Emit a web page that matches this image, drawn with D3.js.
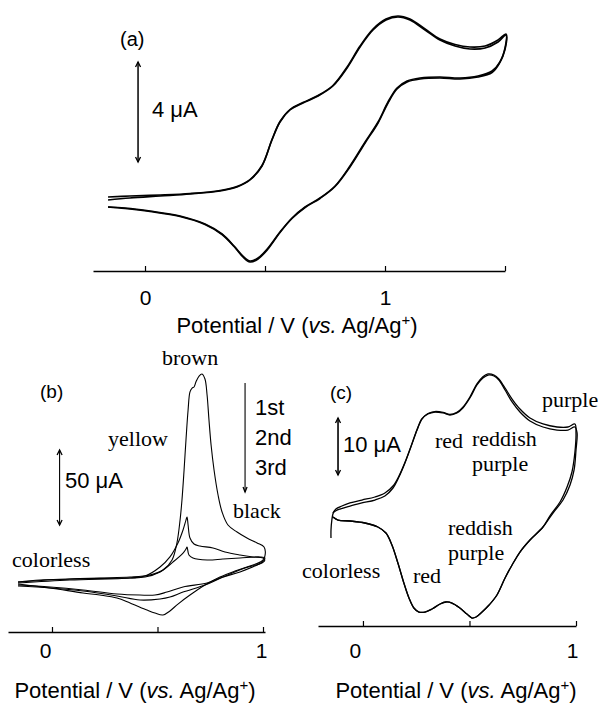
<!DOCTYPE html>
<html>
<head>
<meta charset="utf-8">
<script src="https://d3js.org/d3.v7.min.js"></script>
<style>
  body { margin: 0; background: #fff; }
  svg { display: block; }
  .sans { font-family: "Liberation Sans", Arial, sans-serif; }
  .serif { font-family: "Liberation Serif", "Times New Roman", serif; }
</style>
</head>
<body>
<svg id="chart" width="598" height="704"></svg>
<script>
// ---- data: [potential V, current uA] ----
// (a) two overlapping cycles
var aScan1 = [[-0.154,0.28],[-0.063,0.36],[0.063,0.44],[0.188,0.52],[0.313,0.64],[0.383,0.80],[0.4375,1.08],[0.4875,1.64],[0.529,2.68],[0.5625,3.4],[0.604,3.88],[0.658,4.16],[0.721,4.44],[0.783,4.84],[0.842,5.56],[0.896,6.4],[0.95,7.08],[1.004,7.48],[1.054,7.6],[1.104,7.48],[1.167,7.08],[1.229,6.68],[1.292,6.44],[1.354,6.32],[1.417,6.36],[1.471,6.6],[1.504,6.88],
  [1.5,6.36],[1.479,5.8],[1.446,5.44],[1.3875,5.24],[1.3125,5.16],[1.229,5.2],[1.146,5.16],[1.092,5.04],[1.05,4.76],[1.0125,4.2],[0.971,3.4],[0.917,2.6],[0.854,1.64],[0.792,0.84],[0.729,0.36],[0.667,0.0],[0.6125,-0.44],[0.5625,-1.0],[0.5125,-1.64],[0.471,-2.04],[0.4375,-2.16],[0.408,-1.96],[0.371,-1.56],[0.321,-1.08],[0.25,-0.68],[0.146,-0.36],[0.021,-0.16],[-0.083,-0.04],[-0.154,0.0]];
var aScan2 = [[-0.154,0.40],[-0.063,0.44],[0.063,0.48],[0.188,0.54],[0.313,0.66],[0.383,0.82],[0.4375,1.1],[0.4875,1.66],[0.529,2.7],[0.5625,3.42],[0.604,3.9],[0.658,4.18],[0.721,4.46],[0.783,4.86],[0.842,5.6],[0.896,6.44],[0.95,7.12],[1.004,7.52],[1.054,7.64],[1.104,7.52],[1.167,7.12],[1.229,6.72],[1.292,6.5],[1.354,6.4],[1.417,6.44],[1.471,6.68],[1.504,6.92],
  [1.5,6.3],[1.475,5.72],[1.446,5.38],[1.3875,5.2],[1.3125,5.12],[1.229,5.16],[1.146,5.12],[1.092,5.0],[1.05,4.72],[1.0125,4.16],[0.971,3.36],[0.917,2.56],[0.854,1.6],[0.792,0.82],[0.729,0.34],[0.667,-0.02],[0.6125,-0.46],[0.5625,-1.02],[0.5125,-1.68],[0.471,-2.08],[0.4375,-2.2],[0.408,-2.0],[0.371,-1.58],[0.321,-1.1],[0.25,-0.7],[0.146,-0.38],[0.021,-0.18],[-0.083,-0.06],[-0.154,0.0]];

// (b) 1st, 2nd, 3rd cycles
var bScan1 = [[-0.161,2],[-0.057,3.3],[0.085,4],[0.227,4.7],[0.37,5.3],[0.464,6.7],[0.526,10],[0.569,16.7],[0.592,28],[0.607,43.3],[0.616,56.7],[0.626,76.7],[0.635,96.7],[0.645,116.7],[0.654,128.7],[0.664,131.3],[0.673,132],[0.682,135.3],[0.697,139.3],[0.711,140.7],[0.725,137.3],[0.735,126.7],[0.744,110],[0.754,93.3],[0.768,76.7],[0.787,60],[0.806,48.7],[0.834,40],[0.877,35.3],[0.924,31.3],[0.972,28],[1.005,25.3],[1.009,19.3],
  [0.995,16],[0.938,12.7],[0.867,9.3],[0.796,5.3],[0.725,0],[0.654,-6.7],[0.597,-12.7],[0.559,-17.3],[0.526,-20],[0.488,-18.7],[0.45,-16.7],[0.37,-12],[0.308,-8.7],[0.227,-6.7],[0.147,-5.3],[-0.009,-2],[-0.161,0.7]];
var bScan2 = [[-0.161,1.3],[0.085,3.3],[0.37,4.7],[0.441,6],[0.512,12],[0.559,18.7],[0.597,28],[0.621,36.7],[0.635,43.3],[0.64,45.3],[0.645,40],[0.654,31.3],[0.673,27.3],[0.701,26],[0.763,24.7],[0.82,22],[0.891,20],[0.953,18.7],[1.0,18],[1.009,16.7],
  [0.995,14.7],[0.915,11.3],[0.81,5.3],[0.725,0],[0.621,-4.7],[0.559,-8],[0.512,-9.3],[0.417,-10],[0.308,-7.3],[0.147,-4],[-0.009,-2],[-0.161,-0.7]];
var bScan3 = [[-0.161,2],[0.085,4],[0.37,4.7],[0.441,5.3],[0.512,8.7],[0.573,15.3],[0.621,21.3],[0.635,24],[0.64,25.3],[0.649,20],[0.668,18],[0.735,16.7],[0.81,17.3],[0.891,18],[0.986,18.7],[1.009,18],
  [0.995,15.3],[0.891,8.7],[0.81,5.3],[0.735,1.3],[0.621,-1.3],[0.545,-4.7],[0.488,-6.7],[0.417,-6.7],[0.308,-6],[0.147,-3.3],[-0.009,-1.3],[-0.161,0]];

// (c) two overlapping cycles
var cScan1 = [[-0.150,-3.33],[-0.150,-1.93],[-0.146,-0.18],[-0.141,0.88],[-0.136,1.23],[-0.108,1.75],[-0.061,2.28],[-0.005,2.81],[0.056,3.33],[0.103,4.04],[0.141,5.44],[0.169,7.37],[0.197,9.82],[0.225,12.63],[0.254,15.61],[0.277,17.54],[0.305,18.42],[0.338,18.77],[0.376,18.6],[0.408,18.25],[0.441,18.6],[0.469,19.47],[0.502,21.23],[0.535,23.51],[0.563,24.74],[0.587,25.26],[0.615,25.09],[0.638,24.39],[0.667,22.63],[0.7,20.53],[0.737,18.77],[0.784,17.19],[0.845,16.14],[0.911,15.61],[0.962,15.61],[0.995,16.14],
  [1.005,15.09],[1.0,12.1],[0.991,8.6],[0.972,5.96],[0.939,3.33],[0.892,1.05],[0.845,-1.4],[0.784,-3.68],[0.737,-5.79],[0.7,-8.07],[0.667,-10.35],[0.629,-13.33],[0.592,-15.09],[0.559,-16.32],[0.531,-17.19],[0.512,-17.37],[0.488,-16.67],[0.455,-15.61],[0.418,-14.74],[0.39,-14.56],[0.362,-14.91],[0.324,-15.79],[0.291,-16.32],[0.263,-16.32],[0.239,-15.61],[0.216,-13.86],[0.192,-11.23],[0.164,-7.72],[0.136,-4.56],[0.108,-2.46],[0.07,-1.4],[0.009,-0.7],[-0.061,-0.35],[-0.117,-0.18],[-0.141,0.35]];
var cScan2 = [[-0.141,1.05],[-0.127,1.75],[-0.099,2.28],[-0.061,2.81],[-0.005,3.33],[0.056,3.86],[0.103,4.56],[0.141,5.79],[0.169,7.54],[0.197,9.9],[0.225,12.7],[0.254,15.7],[0.277,17.6],[0.305,18.5],[0.338,18.85],[0.376,18.7],[0.408,18.35],[0.441,18.7],[0.469,19.6],[0.502,21.4],[0.535,23.7],[0.563,24.95],[0.587,25.45],[0.615,25.26],[0.638,24.56],[0.667,22.98],[0.7,21.05],[0.737,19.3],[0.784,17.72],[0.845,16.67],[0.911,16.14],[0.962,16.14],[0.995,16.67],
  [1.0,15.09],[0.995,11.75],[0.981,8.25],[0.958,5.61],[0.925,2.98],[0.88,0.7],[0.845,-1.4],[0.784,-3.68],[0.737,-5.79],[0.7,-8.07],[0.667,-10.35],[0.629,-13.33],[0.592,-15.09],[0.559,-16.32],[0.531,-17.19],[0.512,-17.37],[0.488,-16.67],[0.455,-15.61],[0.418,-14.74],[0.39,-14.56],[0.362,-14.91],[0.324,-15.79],[0.291,-16.32],[0.263,-16.32],[0.239,-15.61],[0.216,-13.86],[0.192,-11.23],[0.164,-7.72],[0.136,-4.56],[0.108,-2.46],[0.07,-1.4],[0.009,-0.7],[-0.061,-0.35],[-0.117,-0.18],[-0.141,0.35]];

var aTicks = [0, 0.5, 1, 1.5];
var bTicks = [0, 0.5, 1];
var cTicks = [0, 0.5, 1];
var labeledTicks = [0, 1];
var aBarSpan = 4, bBarSpan = 50, cBarSpan = 10;   // uA
var barLabels = ["4 μA", "50 μA", "10 μA"];
var cycleNames = ["1st", "2nd", "3rd"];

var svg = d3.select("#chart");

function arrowHead(g, x, y, dir, w, h) {
    // open chevron, dir = -1 points up, +1 points down
    g.append("path")
        .attr("d", "M" + (x - w) + "," + (y - dir * h) + "L" + x + "," + y + "L" + (x + w) + "," + (y - dir * h))
        .attr("fill", "none").attr("stroke", "#000").attr("stroke-width", 1.3);
}

function panel(cfg) {
    var x = d3.scaleLinear().domain(cfg.xDomain).range(cfg.xRange);
    var y = d3.scaleLinear().domain(cfg.yDomain).range(cfg.yRange);
    var g = svg.append("g");

    var line = d3.line()
        .x(function(d) { return x(d[0]); })
        .y(function(d) { return y(d[1]); })
        .curve(d3.curveCatmullRom.alpha(0.5));

    cfg.scans.forEach(function(s) {
        g.append("path").attr("d", line(s))
            .attr("fill", "none").attr("stroke", "#000")
            .attr("stroke-width", cfg.lw).attr("stroke-linejoin", "round");
    });

    var axis = d3.axisBottom(x).tickValues(cfg.ticks)
        .tickSizeInner(-5).tickSizeOuter(0).tickPadding(cfg.pad)
        .tickFormat(function(d) { return labeledTicks.indexOf(d) >= 0 ? d3.format("d")(d) : ""; });
    var ax = g.append("g").attr("transform", "translate(0," + y(cfg.yDomain[0]) + ")").call(axis);
    ax.select(".domain").attr("stroke-width", 1.4);
    ax.selectAll(".tick line").attr("stroke-width", 1.2);
    ax.selectAll(".tick text").attr("class", "sans").attr("font-size", 21)
        .attr("fill", "#000").attr("font-family", null)
        .attr("dx", function(d) { return d === 0 ? cfg.dx0 : cfg.dx1; });

    // current scale bar
    var bx = x(cfg.bar.E), by0 = y(cfg.bar.top), by1 = y(cfg.bar.top - cfg.bar.span);
    g.append("line").attr("x1", bx).attr("x2", bx).attr("y1", by0).attr("y2", by1)
        .attr("stroke", "#000").attr("stroke-width", cfg.barW);
    arrowHead(g, bx, by0, -1, 2.5, 5);
    arrowHead(g, bx, by1, 1, 2.5, 5);
    return { x: x, y: y, g: g };
}

function axisTitle(cx, cy) {
    var t = svg.append("text").attr("class", "sans").attr("font-size", 22)
        .attr("x", cx).attr("y", cy).attr("text-anchor", "middle");
    t.append("tspan").text("Potential / V (");
    t.append("tspan").attr("font-style", "italic").text("vs.");
    t.append("tspan").text(" Ag/Ag");
    t.append("tspan").attr("font-size", 15).attr("dy", -8).text("+");
    t.append("tspan").attr("dy", 8).text(")");
}

function label(text, x, y, cls, size) {
    svg.append("text").attr("class", cls).attr("font-size", size)
        .attr("x", x).attr("y", y).text(text);
}

// ---- panel (a) ----
panel({
    xDomain: [-0.2167, 1.5], xRange: [93, 505],
    yDomain: [-2.56, 7.64], yRange: [271, 16],
    scans: [aScan1, aScan2], lw: 1.6, ticks: aTicks, pad: 19, dx0: 0, dx1: 0,
    bar: { E: -0.029, top: 5.8, span: aBarSpan }, barW: 1.5
});
axisTitle(297, 333);
label("(a)", 120, 46, "sans", 20);
label(barLabels[0], 152, 117, "sans", 22);

// ---- panel (b) ----
var pb = panel({
    xDomain: [-0.2085, 1.0095], xRange: [8, 265],
    yDomain: [-31.33, 150], yRange: [632, 360],
    scans: [bScan1, bScan2, bScan3], lw: 1.1, ticks: bTicks, pad: 11, dx0: -7, dx1: -2,
    bar: { E: 0.036, top: 90, span: bBarSpan }, barW: 1.1
});
// cycle-order arrow
var cx = pb.x(0.915);
pb.g.append("line").attr("x1", cx).attr("x2", cx).attr("y1", pb.y(134.7)).attr("y2", pb.y(62))
    .attr("stroke", "#000").attr("stroke-width", 1.1);
arrowHead(pb.g, cx, pb.y(62), 1, 2, 5);
axisTitle(135, 698);
label("(b)", 40, 398, "sans", 19);
label(barLabels[1], 65, 488, "sans", 22);
cycleNames.forEach(function(n, i) { label(n, 255, 415 + i * 30, "sans", 22); });
label("brown", 162, 365, "serif", 22);
label("yellow", 108, 446, "serif", 22);
label("black", 233, 518, "serif", 22);
label("colorless", 12, 567, "serif", 22);

// ---- panel (c) ----
panel({
    xDomain: [-0.211, 1.0], xRange: [318, 576],
    yDomain: [-18.77, 26.14], yRange: [626, 370],
    scans: [cScan1, cScan2], lw: 1.3, ticks: cTicks, pad: 17, dx0: -8, dx1: -4,
    bar: { E: -0.117, top: 17.72, span: cBarSpan }, barW: 1.6
});
axisTitle(456, 698);
label("(c)", 330, 399, "sans", 19);
label(barLabels[2], 343, 452, "sans", 22);
label("red", 435, 448, "serif", 22);
label("reddish", 472, 446, "serif", 22);
label("purple", 472, 471, "serif", 22);
label("purple", 542, 407, "serif", 22);
label("reddish", 448, 535, "serif", 22);
label("purple", 448, 560, "serif", 22);
label("colorless", 302, 578, "serif", 22);
label("red", 413, 583, "serif", 22);
</script>
</body>
</html>
